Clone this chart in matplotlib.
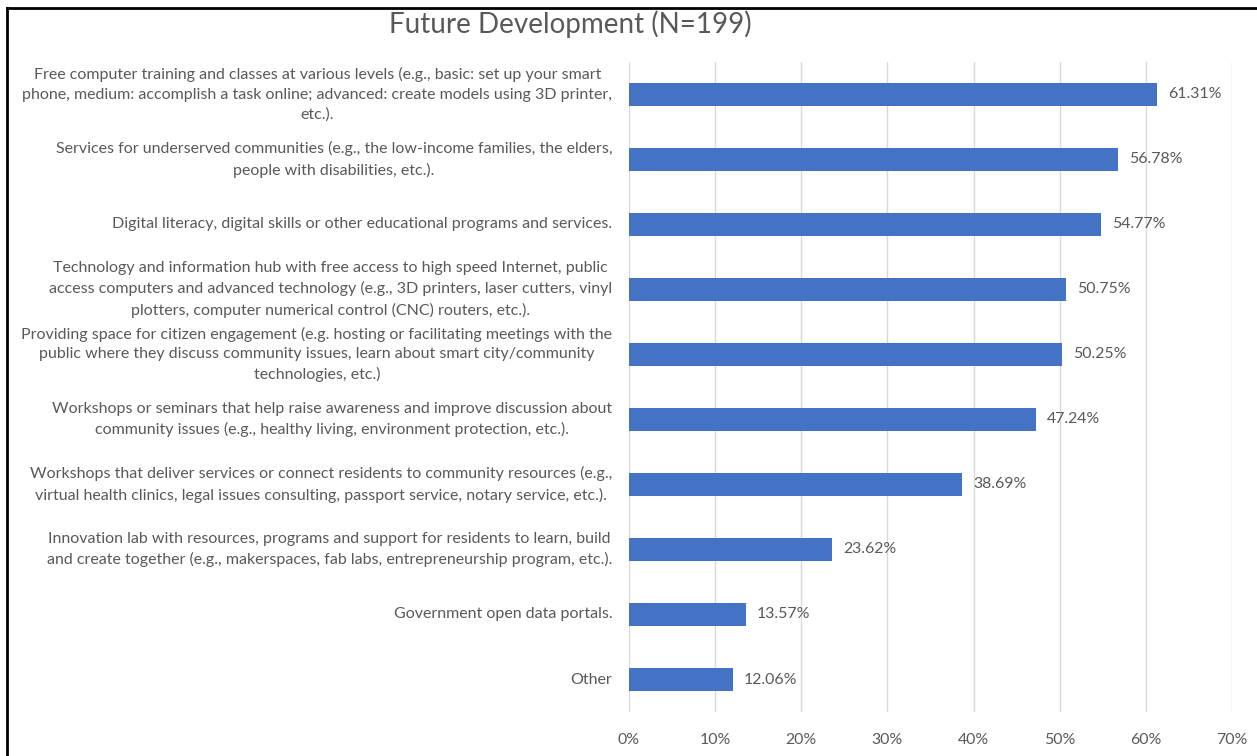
import numpy as np
import matplotlib.pyplot as plt
from matplotlib.lines import Line2D

plt.rcParams['font.family'] = ['Lato', 'DejaVu Sans']

# data, top to bottom as in the chart
labels = [
    "Free computer training and classes at various levels (e.g., basic: set up your smart\nphone, medium: accomplish a task online; advanced: create models using 3D printer,\netc.).",
    "Services for underserved communities (e.g., the low-income families, the elders,\npeople with disabilities, etc.).",
    "Digital literacy, digital skills or other educational programs and services.",
    "Technology and information hub with free access to high speed Internet, public\naccess computers and advanced technology (e.g., 3D printers, laser cutters, vinyl\nplotters, computer numerical control (CNC) routers, etc.).",
    "Providing space for citizen engagement (e.g. hosting or facilitating meetings with the\npublic where they discuss community issues, learn about smart city/community\ntechnologies, etc.)",
    "Workshops or seminars that help raise awareness and improve discussion about\ncommunity issues (e.g., healthy living, environment protection, etc.).",
    "Workshops that deliver services or connect residents to community resources (e.g.,\nvirtual health clinics, legal issues consulting, passport service, notary service, etc.).",
    "Innovation lab with resources, programs and support for residents to learn, build\nand create together (e.g., makerspaces, fab labs, entrepreneurship program, etc.).",
    "Government open data portals.",
    "Other",
]
values = [61.31, 56.78, 54.77, 50.75, 50.25, 47.24, 38.69, 23.62, 13.57, 12.06]
xticks = [0, 10, 20, 30, 40, 50, 60, 70]

grey = '#595959'
fs = 11.4
fig = plt.figure(figsize=(12.57, 7.56), dpi=100)
ax = fig.add_axes([0.5004, 0.0582, 0.4797, 0.8598])

y = np.arange(len(values))[::-1]
ax.barh(y, values, height=0.36, color='#4472C4', zorder=3)
for yi, v in zip(y, values):
    ax.text(v + 1.3, yi, '%.2f%%' % v, va='center', ha='left', fontsize=fs, color=grey)

ax.set_xlim(0, 70)
ax.set_ylim(-0.5, len(values) - 0.5)
ax.set_xticks(xticks)
ax.set_xticklabels(['%d%%' % t for t in xticks], fontsize=fs, color=grey)
ax.set_yticks(y)
ax.set_yticklabels(labels, fontsize=11.5, color=grey, multialignment='center', linespacing=1.5)
for lab in ax.get_yticklabels():
    lab.set_va('center')
ax.tick_params(axis='both', length=0)
ax.tick_params(axis='y', pad=12)
ax.tick_params(axis='x', pad=15)
ax.grid(axis='x', color='#d9d9d9', linewidth=1, zorder=0)
for s in ax.spines.values():
    s.set_visible(False)

fig.text(0.454, 0.968, 'Future Development (N=199)', ha='center', va='center',
         fontsize=20, color=grey)

# border lines of the screenshot
fig.add_artist(Line2D([0.0056, 1.0], [0.989, 0.989], color='black', linewidth=2))
fig.add_artist(Line2D([0.0056, 0.0056], [0.0, 0.989], color='black', linewidth=2))

fig.savefig('out.png', dpi=100)
